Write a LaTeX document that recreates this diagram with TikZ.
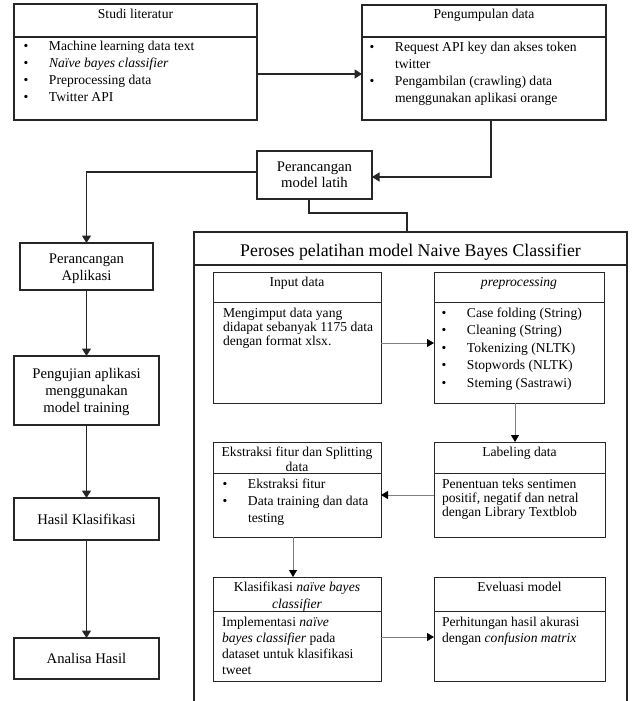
\documentclass[tikz,border=0pt]{standalone}
\usepackage{fontspec}
\setmainfont{Liberation Serif}
\usetikzlibrary{arrows.meta}
\newcommand\mkbox[6][box]{\node[#1, minimum width={(#5-#3)*1pt}, minimum height={(#6-#4)*1pt}] (#2) at ({(#3+#5)/2},{(#4+#6)/2}) {};}
\begin{document}
\begin{tikzpicture}[x=1pt,y=-1pt,
  box/.style={draw=black!85, line width=1pt, inner sep=0pt, outer sep=0pt},
  obox/.style={box, line width=1.2pt},
  pbox/.style={box, line width=1.6pt},
  divline/.style={draw=black!85, line width=1pt},
  oarr/.style={draw=black!85, line width=1.4pt, -{Triangle[length=7.5pt,width=9pt]}},
  oline/.style={draw=black!85, line width=1.4pt},
  iarr/.style={draw=black!50, line width=0.8pt, -{Triangle[length=7pt,width=8pt,color=black]}},
  txt/.style={inner sep=0pt, outer sep=0pt, anchor=base west, font=\fontsize{13.6}{17}\selectfont},
  ctxt/.style={inner sep=0pt, outer sep=0pt, anchor=base, font=\fontsize{13.6}{17}\selectfont},
  ltxt/.style={inner sep=0pt, outer sep=0pt, anchor=base, font=\fontsize{14.7}{17}\selectfont},
]
\useasboundingbox (0,0) rectangle (632,701);
\fill[white] (0,0) rectangle (632,701);
\clip (0,0) rectangle (632,701);

% boxes
\mkbox[obox]{studi}{14}{4}{257}{120}
\mkbox[obox]{peng}{362}{5}{606}{120}
\mkbox[obox]{model}{257}{151}{372}{199}
\mkbox[obox]{app}{20}{243}{153}{290}
\mkbox[obox]{uji}{14}{356}{159}{425}
\mkbox[obox]{hasil}{14}{498}{159}{540}
\mkbox[obox]{anal}{14}{638}{159}{679}
\mkbox[pbox]{proc}{194}{232}{627}{760}
\mkbox{inp}{213}{272}{381}{403}
\mkbox{pre}{434}{272}{604}{403}
\mkbox{eks}{213}{442}{381}{537}
\mkbox{lab}{434}{442}{605}{537}
\mkbox{kla}{213}{577}{381}{681}
\mkbox{eva}{434}{577}{605}{681}

% header dividers
\draw[divline, line width=1.2pt] (studi.west |- 0,37) -- (studi.east |- 0,37);
\draw[divline, line width=1.2pt] (peng.west |- 0,37) -- (peng.east |- 0,37);
\draw[divline, line width=1.6pt] (proc.west |- 0,265) -- (proc.east |- 0,265);
\draw[divline] (inp.west |- 0,302) -- (inp.east |- 0,302);
\draw[divline] (pre.west |- 0,302) -- (pre.east |- 0,302);
\draw[divline] (eks.west |- 0,473) -- (eks.east |- 0,473);
\draw[divline] (lab.west |- 0,473) -- (lab.east |- 0,473);
\draw[divline] (kla.west |- 0,611) -- (kla.east |- 0,611);
\draw[divline] (eva.west |- 0,611) -- (eva.east |- 0,611);

% texts: top
\node[ctxt] (h1) at (135.5,19) {Studi literatur};
\node[txt] (b1) at (23.6,51) {\begin{tabular}[t]{@{}p{25.4pt}@{}l@{}}
\textbullet & Machine learning data text\\
\textbullet & \textit{Naïve bayes classifier}\\
\textbullet & Preprocessing data\\
\textbullet & Twitter API
\end{tabular}};
\node[ctxt] (h2) at (484,19) {Pengumpulan data};
\node[txt] (b2) at (369.6,52) {\begin{tabular}[t]{@{}p{25.4pt}@{}l@{}}
\textbullet & Request API key dan akses token\\
 & twitter\\
\textbullet & Pengambilan (crawling) data\\
 & menggunakan aplikasi orange
\end{tabular}};

% left column texts
\node[ltxt, font=\fontsize{14.7}{16}\selectfont] (t1) at (314.5,171.5) {\begin{tabular}[t]{@{}c@{}}Perancangan\\model latih\end{tabular}};
\node[ltxt] (t2) at (86.5,263.5) {\begin{tabular}[t]{@{}c@{}}Perancangan\\Aplikasi\end{tabular}};
\node[ltxt] (t3) at (86.5,378.5) {\begin{tabular}[t]{@{}c@{}}Pengujian aplikasi\\menggunakan\\model training\end{tabular}};
\node[ltxt] (t4) at (86.5,524.5) {Hasil Klasifikasi};
\node[ltxt] (t5) at (86.5,663.5) {Analisa Hasil};

% big box title
\node[ctxt, font=\fontsize{17.8}{20}\selectfont] (t6) at (410.5,256) {Peroses pelatihan model Naive Bayes Classifier};

% inner boxes texts
\node[ctxt] (h3) at (297,286) {Input data};
\node[txt, font=\fontsize{13.6}{14}\selectfont] (b3) at (223,317) {\begin{tabular}[t]{@{}l@{}}
Mengimput data yang\\
didapat sebanyak 1175 data\\
dengan format xlsx.
\end{tabular}};
\node[ctxt] (h4) at (519,286) {\textit{preprocessing}};
\node[txt, font=\fontsize{13.6}{17.5}\selectfont] (b4) at (441.6,317) {\begin{tabular}[t]{@{}p{25.4pt}@{}l@{}}
\textbullet & Case folding (String)\\
\textbullet & Cleaning (String)\\
\textbullet & Tokenizing (NLTK)\\
\textbullet & Stopwords (NLTK)\\
\textbullet & Steming (Sastrawi)
\end{tabular}};
\node[ctxt, font=\fontsize{13.6}{15.5}\selectfont] (h5) at (297,456) {\begin{tabular}[t]{@{}c@{}}Ekstraksi fitur dan Splitting\\data\end{tabular}};
\node[txt] (b5) at (222.6,488) {\begin{tabular}[t]{@{}p{25.4pt}@{}l@{}}
\textbullet & Ekstraksi fitur\\
\textbullet & Data training dan data\\
 & testing
\end{tabular}};
\node[ctxt] (h6) at (519.5,456) {Labeling data};
\node[txt, font=\fontsize{13.6}{14.3}\selectfont] (b6) at (442,488) {\begin{tabular}[t]{@{}l@{}}
Penentuan teks sentimen\\
positif, negatif dan netral\\
dengan Library Textblob
\end{tabular}};
\node[ctxt] (h7) at (297,591) {\begin{tabular}[t]{@{}c@{}}Klasifikasi \textit{naïve bayes}\\\textit{classifier}\end{tabular}};
\node[txt, font=\fontsize{13.6}{16}\selectfont] (b7) at (222,626) {\begin{tabular}[t]{@{}l@{}}
Implementasi \textit{naïve}\\
\textit{bayes classifier} pada\\
dataset untuk klasifikasi\\
tweet
\end{tabular}};
\node[ctxt] (h8) at (519.5,591) {Eveluasi model};
\node[txt, font=\fontsize{13.6}{16}\selectfont] (b8) at (442,626) {\begin{tabular}[t]{@{}l@{}}
Perhitungan hasil akurasi\\
dengan \textit{confusion matrix}
\end{tabular}};

% outer connectors
\draw[oarr] ([yshift=-12pt]studi.east) -- ([yshift=-11.5pt]peng.west);
\draw[oarr] ([xshift=7pt]peng.south) |- ([yshift=-2pt]model.east);
\draw[oarr] ([yshift=3pt]model.west) -| (app.north);
\coordinate (j1) at (407,213);
\draw[oline] ([xshift=-5.5pt]model.south) |- (j1) -- (j1 |- proc.north);
\draw[oarr] (app.south) -- (uji.north);
\draw[oarr] (uji.south) -- (hasil.north);
\draw[oarr] (hasil.south) -- (anal.north);

% inner connectors
\draw[iarr] ([yshift=-5.5pt]inp.east) -- ([yshift=-5.5pt]pre.west);
\draw[iarr] ([xshift=-4pt]pre.south) -- ([xshift=-4.5pt]lab.north);
\draw[iarr] ([yshift=-5.5pt]lab.west) -- ([yshift=-5.5pt]eks.east);
\draw[iarr] ([xshift=-4pt]eks.south) -- ([xshift=-4pt]kla.north);
\draw[iarr] ([yshift=-8pt]kla.east) -- ([yshift=-8pt]eva.west);
\end{tikzpicture}
\end{document}
